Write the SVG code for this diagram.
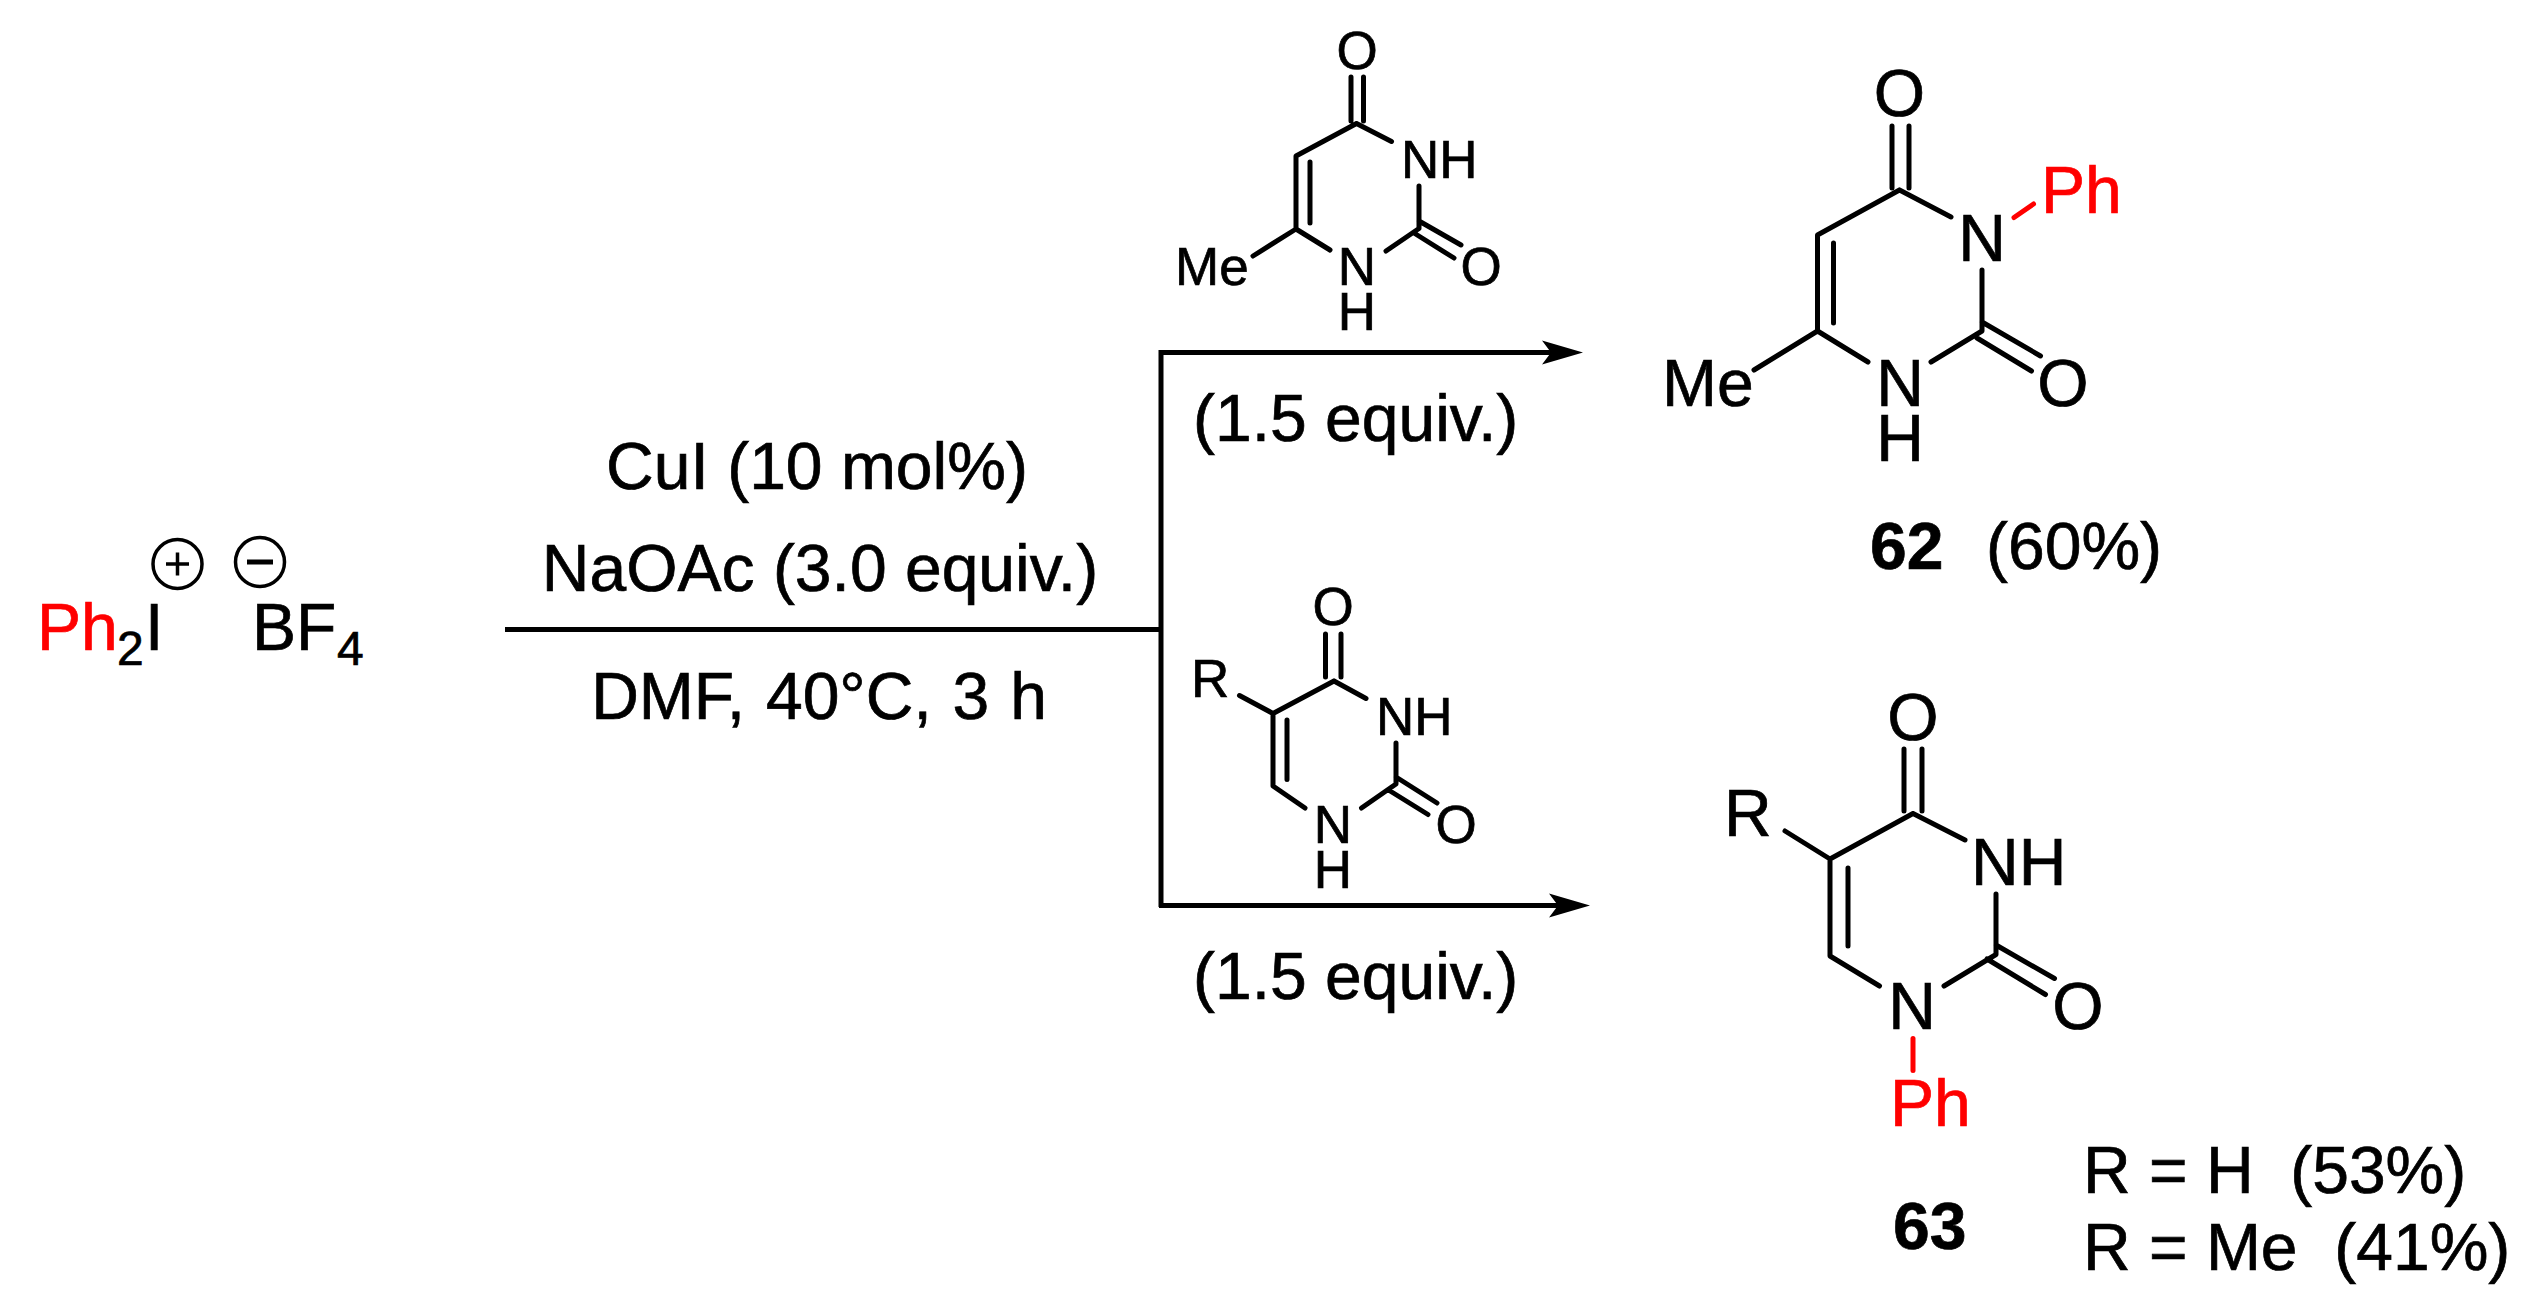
<svg xmlns="http://www.w3.org/2000/svg" width="2537" height="1312" viewBox="0 0 2537 1312">
<style>
text{font-family:"Liberation Sans",Arial,sans-serif;fill:#000;stroke:#000;stroke-width:.7px}
.l{font-size:66px}.m{font-size:66px}.s{font-size:53px}.sub{font-size:48px}
.b{font-weight:bold}text.r{fill:#f00;stroke:#f00}.c{text-anchor:middle}
.bond{fill:none;stroke:#000;stroke-width:5;stroke-linecap:round;stroke-linejoin:round}
.red{fill:none;stroke:#f00;stroke-width:5;stroke-linecap:round}
.line{fill:none;stroke:#000;stroke-width:5}
.ion{fill:none;stroke:#000;stroke-width:3.500}
</style>
<defs>
<marker id="arrow" markerUnits="userSpaceOnUse" markerWidth="44" markerHeight="26" refX="9" refY="13" orient="auto">
<path d="M0 1 L41 13 L0 25 L9 13Z" fill="#000"/>
</marker>
</defs>
<rect width="2537" height="1312" fill="#fff"/>

<g id="reactant">
<text class="m r" x="37" y="650">Ph</text>
<text class="sub" x="117" y="665">2</text>
<text class="m" x="145" y="650">I</text>
<text class="m" x="252" y="650">BF</text>
<text class="sub" x="337" y="665">4</text>
<circle class="ion" cx="177.5" cy="564" r="24.5"/>
<path class="ion" d="M166 564H189M177.5 552.500V575.500"/>
<circle class="ion" cx="260" cy="562" r="24.500"/>
<path d="M247 562H273" fill="none" stroke="#000" stroke-width="5"/>
</g>

<g id="connectors">
<path class="line" d="M505 629.500H1160"/>
<path class="line" d="M1161 350V907"/>
<path class="line" marker-end="url(#arrow)" d="M1159 352.500H1551"/>
<path class="line" marker-end="url(#arrow)" d="M1159 905.500H1558"/>
</g>

<g id="conditions">
<text class="l c" x="817" y="489">CuI (10 mol%)</text>
<text class="l c" x="820" y="591">NaOAc (3.0 equiv.)</text>
<text class="l c" x="819" y="719" style="word-spacing:2.500px">DMF, 40°C, 3 h</text>
</g>

<g id="reagent-top">
<path class="bond" d="M1351 77V121M1363.500 77V121M1356.500 123.500L1296 156V229L1253 256M1310 162V223M1356.500 123.500L1391.500 141.500M1296 229L1330 250M1386 251L1419 228.500V186M1419 221L1461 245M1414 233L1454 258"/>
<text class="s c" x="1357" y="69">O</text>
<text class="s" x="1401" y="178">NH</text>
<text class="s" x="1175" y="285">Me</text>
<text class="s c" x="1357" y="285">N</text>
<text class="s c" x="1357" y="330">H</text>
<text class="s c" x="1481" y="285">O</text>
</g>
<text id="equiv-top" class="l" x="1193" y="441">(1.5 equiv.)</text>

<g id="product-62">
<path class="bond" d="M1892 126V188M1909 126V188M1899.500 190L1817.500 235V331L1754 370M1833.500 243V323M1899.500 190L1951 217M1817.500 331L1868 362M1931 362L1982 331V270M1982 322L2040.500 356M1977 338L2031.500 371"/>
<path class="red" d="M2014 217.500L2033.500 204"/>
<text class="m c" x="1899.500" y="116">O</text>
<text class="m c" x="1982" y="261">N</text>
<text class="m r" x="2041" y="213">Ph</text>
<text class="m" x="1662" y="406">Me</text>
<text class="m c" x="1900" y="406">N</text>
<text class="m c" x="1900" y="461">H</text>
<text class="m c" x="2063" y="406">O</text>
<text class="l b" x="1870" y="569">62</text>
<text class="l" x="1986" y="569">(60%)</text>
</g>

<g id="reagent-bottom">
<path class="bond" d="M1325.500 634V677M1341 634V677M1334 681L1273 713.500V786L1305 808M1287 720V779.500M1334 681L1366 698.500M1239.500 695.500L1273 713.500M1361.500 808L1396 784V743M1396 777L1437 803M1388.500 790L1428 814.500"/>
<text class="s c" x="1333" y="625">O</text>
<text class="s" x="1376" y="735">NH</text>
<text class="s" x="1191" y="697">R</text>
<text class="s c" x="1333" y="843">N</text>
<text class="s c" x="1333" y="888">H</text>
<text class="s c" x="1456" y="843">O</text>
</g>
<text id="equiv-bottom" class="l" x="1193" y="999">(1.5 equiv.)</text>

<g id="product-63">
<path class="bond" d="M1904 749V811M1922 749V811M1913 813.500L1830 859V956L1879.500 986M1848 868V946M1913 813.500L1965 840M1785 831L1830 859M1944 986L1996 954.500V894M1996 945L2054.500 978.500M1987 959L2045.500 994.500"/>
<path class="red" d="M1913 1038.500V1070.500"/>
<text class="m c" x="1913" y="740">O</text>
<text class="m" x="1971" y="885">NH</text>
<text class="m" x="1724" y="836">R</text>
<text class="m c" x="1912" y="1029">N</text>
<text class="m c" x="2078" y="1029">O</text>
<text class="m r" x="1890" y="1126">Ph</text>
<text class="l b" x="1893" y="1249">63</text>
<text class="l" x="2083" y="1193" xml:space="preserve">R = H  (53%)</text>
<text class="l" x="2083" y="1270" xml:space="preserve">R = Me  (41%)</text>
</g>
</svg>
